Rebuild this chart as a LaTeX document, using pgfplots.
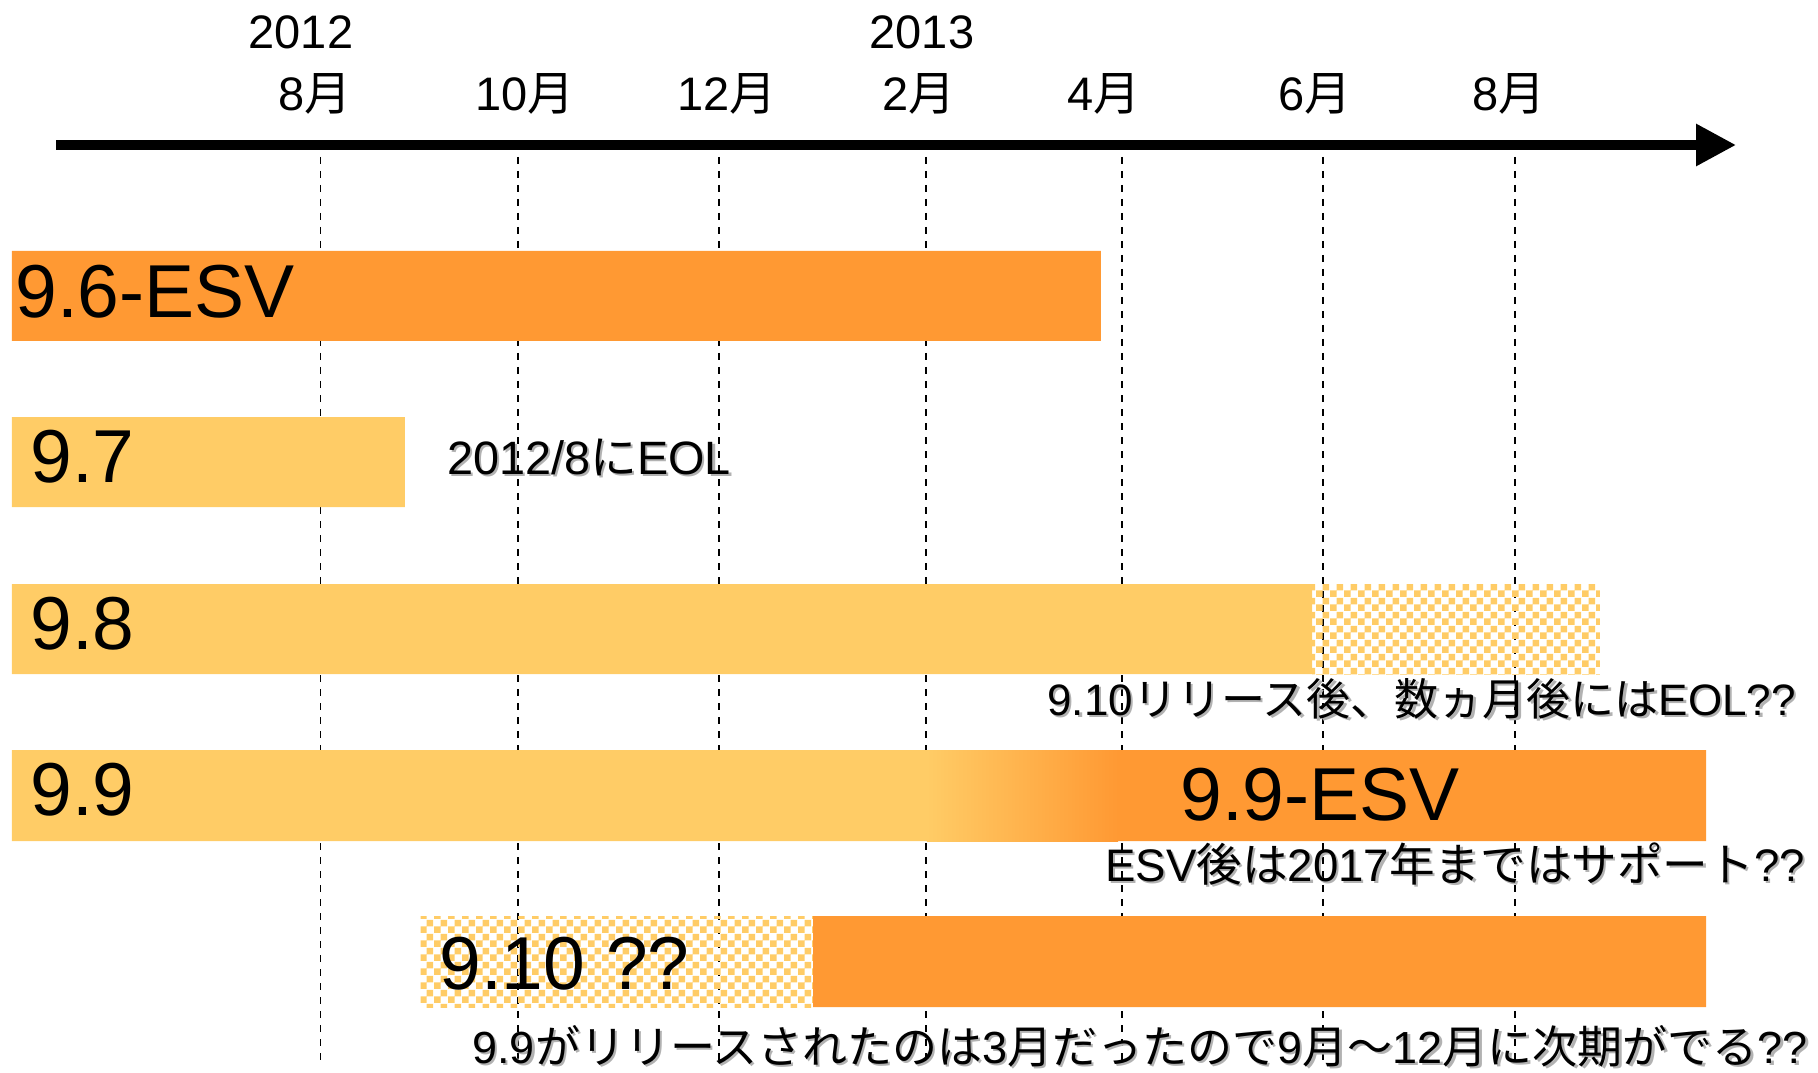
\documentclass[border=0pt]{standalone}
\usepackage{pgfplots}
\pgfplotsset{compat=1.18}
\usetikzlibrary{arrows.meta,patterns}
\usepackage{fontspec}
\setmainfont{Liberation Sans}
\newfontfamily\cjk{Noto Sans CJK JP}
\definecolor{lightor}{HTML}{FFCC66}
\definecolor{darkor}{HTML}{FF9933}
\pgfdeclarepatternformonly{mychecker}{\pgfpointorigin}{\pgfqpoint{7pt}{7pt}}{\pgfqpoint{7pt}{7pt}}{%
  \pgfpathrectangle{\pgfpointorigin}{\pgfqpoint{3.5pt}{3.5pt}}%
  \pgfpathrectangle{\pgfqpoint{3.5pt}{3.5pt}}{\pgfqpoint{3.5pt}{3.5pt}}%
  \pgfusepath{fill}}
\newcommand{\shtext}[4]{%
  \node[anchor=base west, inner sep=0pt, text=black!30, font=\fontsize{#3}{#3}\selectfont] at ([shift={(1.1pt,-1.1pt)}]axis cs:#1,#2) {#4};
  \node[anchor=base west, inner sep=0pt, text=black, font=\fontsize{#3}{#3}\selectfont] at (axis cs:#1,#2) {#4};}
\begin{document}
\begin{tikzpicture}
\begin{axis}[
  scale only axis, width=909pt, height=536pt,
  xmin=4.7739, xmax=23.0452, ymin=-1072, ymax=0,
  axis lines=none, clip=false, no markers,
]
% dashed month lines
\pgfplotsinvokeforeach{7.995,9.980,12.0,14.08,16.05,18.07,20.0}{
  \addplot[black, line width=0.8pt, dash pattern=on 3.5pt off 3.5pt] coordinates {(#1,-157) (#1,-1061)};
}
% time arrow
\addplot[black, line width=4.6pt, -{Triangle[length=20pt,width=20pt]}] coordinates {(5.337,-145) (22.221,-145)};
% 9.6-ESV
\addplot[fill=darkor, draw=none] coordinates {(4.894,-251) (15.839,-251) (15.839,-341) (4.894,-341) (4.894,-251)};
% 9.7
\addplot[fill=lightor, draw=none] coordinates {(4.894,-417) (8.844,-417) (8.844,-507) (4.894,-507) (4.894,-417)};
% 9.8
\addplot[fill=lightor, draw=none] coordinates {(4.894,-584) (17.960,-584) (17.960,-674) (4.894,-674) (4.894,-584)};
\addplot[draw=none, pattern=mychecker, pattern color=lightor] coordinates {(17.960,-584) (20.854,-584) (20.854,-674) (17.960,-674) (17.960,-584)};
% 9.9
\addplot[fill=lightor, draw=none] coordinates {(4.894,-750) (14.10,-750) (14.10,-841) (4.894,-841) (4.894,-750)};
\addplot[draw=none, left color=lightor, right color=darkor] coordinates {(14.09,-750) (16.01,-750) (16.01,-841) (14.09,-841) (14.09,-750)};
\addplot[fill=darkor, draw=none] coordinates {(16.0,-750) (21.920,-750) (21.920,-841) (16.0,-841) (16.0,-750)};
% 9.10
\addplot[draw=none, pattern=mychecker, pattern color=lightor] coordinates {(9.0,-916) (12.945,-916) (12.945,-1007) (9.0,-1007) (9.0,-916)};
\addplot[fill=darkor, draw=none] coordinates {(12.945,-916) (21.920,-916) (21.920,-1007) (12.945,-1007) (12.945,-916)};
% year and month labels
\begin{scope}[every node/.style={anchor=base, inner sep=0pt, font=\fontsize{23.5}{28}\selectfont}]
\node at (axis cs:7.799,-49) {2012};
\node at (axis cs:14.040,-49) {2013};
\node at (axis cs:7.940,-111) {8{\cjk 月}};
\node at (axis cs:10.050,-111) {10{\cjk 月}};
\node at (axis cs:12.080,-111) {12{\cjk 月}};
\node at (axis cs:14.010,-111) {2{\cjk 月}};
\node at (axis cs:15.869,-111) {4{\cjk 月}};
\node at (axis cs:17.990,-111) {6{\cjk 月}};
\node at (axis cs:19.940,-111) {8{\cjk 月}};
\end{scope}
% bar labels
\begin{scope}[every node/.style={anchor=base west, inner sep=0pt, font=\fontsize{37.5}{40}\selectfont}]
\node at (axis cs:4.925,-318) {9.6-ESV};
\node at (axis cs:5.075,-482) {9.7};
\node at (axis cs:5.075,-649) {9.8};
\node at (axis cs:5.075,-815) {9.9};
\node at (axis cs:16.633,-820) {9.9-ESV};
\node at (axis cs:9.186,-989) {9.10 ??};
\end{scope}
% annotations
\shtext{9.266}{-474}{23.4}{2012/8{\cjk に}EOL}
\shtext{15.296}{-715}{22}{9.10{\cjk リリース後、数ヵ月後には}EOL??}
\shtext{15.879}{-881}{22.8}{ESV{\cjk 後は}2017{\cjk 年まではサポート}??}
\shtext{9.518}{-1063}{22.5}{9.9{\cjk がリリースされたのは}3{\cjk 月だったので}9{\cjk 月～}12{\cjk 月に次期がでる}??}
\end{axis}
\pgfresetboundingbox
\path (current axis.south west) rectangle (current axis.north east);
\end{tikzpicture}
\end{document}
